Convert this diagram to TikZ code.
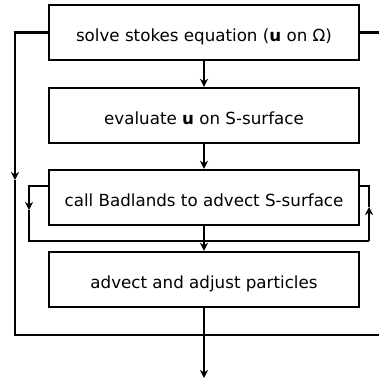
\documentclass[tikz,border=0pt]{standalone}
\usepackage{fontspec}
\setmainfont{DejaVu Sans}
\usetikzlibrary{arrows.meta, positioning}
\tikzset{
  stepbox/.style={draw, line width=2.4pt, minimum width=310pt, minimum height=55pt,
    text height=17.5pt, text depth=0pt, font=\fontsize{16.7}{20}\selectfont},
  flow/.style={line width=2.4pt, -{Stealth[length=8pt,width=8pt,inset=2.5pt]}},
  loopline/.style={line width=2.4pt}
}

\begin{document}
\begin{tikzpicture}[x=1pt, y=-1pt]
  \useasboundingbox (0,0) rectangle (379,378);
  % --- the four steps ---
  \node[stepbox] (stokes) at (204,32.5) {solve stokes equation (\textbf{u} on Ω)};
  \node[stepbox] (evalu) at (204,115.5) {evaluate \textbf{u} on S-surface};
  \node[stepbox] (badlands) at (204,197.5) {call Badlands to advect S-surface};
  \node[stepbox] (advect) at (204,279.5) {advect and adjust particles};
  \coordinate (exit) at (204,378);

  \draw[flow] (stokes) -- (evalu);
  \draw[flow] (evalu) -- (badlands);
  \draw[flow] (badlands) -- (advect);
  \draw[flow] (advect) -- (exit);

  % --- outer loop ---
  \coordinate (outerA) at (15,180);
  \coordinate (outerB) at (15,335);
  \coordinate (outerC) at (379,335);
  \coordinate (outerD) at (379,32.5);
  \draw[flow] (stokes.west) -| (outerA);
  \draw[loopline] (outerA) -- (outerB) -- (outerC);
  \draw[loopline] (stokes.east) -- (outerD);

  % --- inner loop round Badlands ---
  \coordinate (innerA) at (29,210);
  \coordinate (innerB) at (29,241);
  \coordinate (innerC) at (369,241);
  \coordinate (innerD) at (369,207);
  \draw[flow] ([yshift=11.5pt]badlands.west) -| (innerA);
  \draw[loopline] (innerA) -- (innerB) -- (innerC);
  \draw[flow] (innerC) -- (innerD);
  \draw[loopline] (innerD) |- ([yshift=11.5pt]badlands.east);
\end{tikzpicture}
\end{document}
